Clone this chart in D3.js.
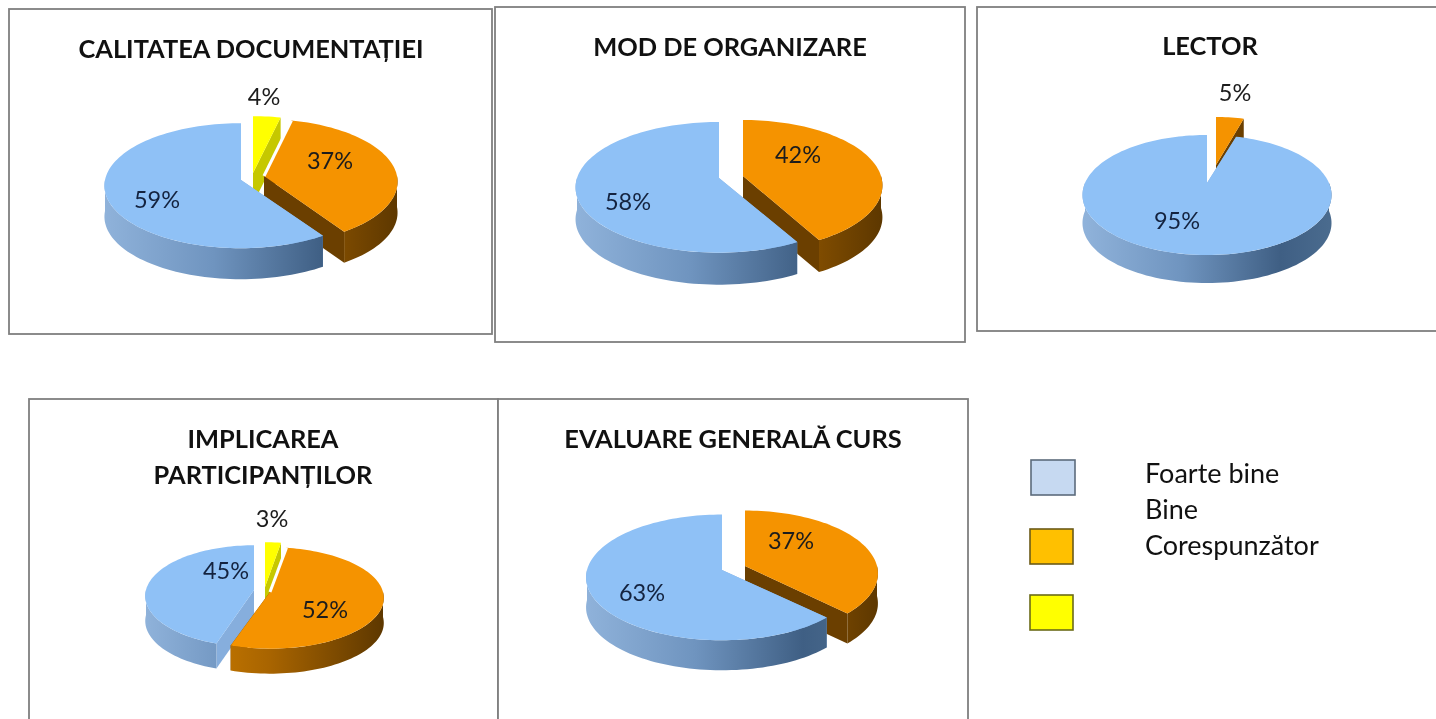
<!DOCTYPE html>
<html><head><meta charset="utf-8">
<script src="https://cdnjs.cloudflare.com/ajax/libs/d3/7.8.5/d3.min.js"></script>
<style>html,body{margin:0;padding:0;background:#fff;overflow:hidden}svg{display:block;filter:blur(.45px)}text{font-family:Lato,"Open Sans",sans-serif}</style>
</head><body><div id="c"></div>
<script>
// ---- data (shares in %, clockwise from 12 o'clock: Corespunzător, Bine, Foarte bine)
const categories = ["Foarte bine", "Bine", "Corespunzător"];
const titles = [["CALITATEA DOCUMENTAȚIEI"], ["MOD DE ORGANIZARE"], ["LECTOR"], ["IMPLICAREA", "PARTICIPANȚILOR"], ["EVALUARE GENERALĂ CURS"]];
const foarteBine = [59.4, 58, 95.4, 45, 62.6];
const bine = [37, 42, 4.6, 52.4, 37.4];
const corespunzator = [3.6, 0, 0, 2.6, 0];

// ---- layout
const W = 1436, H = 719;
const topColor = d3.scaleOrdinal(categories, ["#8fc1f6", "#f59300", "#ffff00"]);
const cutColor = d3.scaleOrdinal(categories, ["#86aedd", "#6b3f00", "#c6c800"]);
const wallStops = {
  "Foarte bine": [[0, "#8fb2da"], [.4, "#6f94bf"], [.8, "#3f5f84"], [1, "#4a6b8e"]],
  "Bine": [[0, "#d98500"], [.5, "#a86400"], [1, "#5e3800"]],
  "Corespunzător": [[0, "#c6c800"], [1, "#c6c800"]]
};
const legendFill = d3.scaleOrdinal(categories, ["#c6d9f1", "#ffc000", "#ffff00"]);
const legendStroke = d3.scaleOrdinal(categories, ["#5c6b7c", "#6b5a18", "#6b6b18"]);
// order: indices into [Corespunzător, Bine, Foarte bine], painted back to front
const layouts = [
  { box: [9, 9, 483, 325], titleX: 251, titleY: [49], depth: 31, f: 11, k: 62, order: [0, 1, 2],
    apex: { "Foarte bine": [241, 180, 136], "Bine": [264, 176, 133], "Corespunzător": [253, 173, 134] },
    label: { "Foarte bine": [157, 200], "Bine": [330, 161], "Corespunzător": [264, 97] } },
  { box: [495, 7, 470, 335], titleX: 730, titleY: [47], depth: 32, f: 7, k: 64, order: [0, 1, 2],
    apex: { "Foarte bine": [719, 178, 142], "Bine": [743, 176, 138], "Corespunzător": [742, 176, 140] },
    label: { "Foarte bine": [628, 202], "Bine": [798, 155] } },
  { box: [977, 7, 470, 324], titleX: 1210, titleY: [46], depth: 28, f: 5, k: 57.6, order: [0, 1, 2],
    apex: { "Foarte bine": [1207, 183, 122], "Bine": [1216, 165, 116], "Corespunzător": [1216, 165, 116] },
    label: { "Foarte bine": [1177, 221], "Bine": [1235, 93] } },
  { box: [29, 399, 469, 340], titleX: 263, titleY: [439, 475], depth: 25, f: 8.5, k: 50, order: [0, 2, 1],
    apex: { "Foarte bine": [254, 590, 108], "Bine": [270, 592, 113], "Corespunzător": [265, 587, 110] },
    label: { "Foarte bine": [226, 571], "Bine": [325, 610], "Corespunzător": [272, 519] } },
  { box: [498, 399, 470, 340], titleX: 733, titleY: [439], depth: 30, f: 8.5, k: 62, order: [0, 1, 2],
    apex: { "Foarte bine": [722, 570, 135], "Bine": [745, 566, 132], "Corespunzător": [745, 566, 132] },
    label: { "Foarte bine": [642, 593], "Bine": [791, 541] } }
];
const legendLayout = [
  { box: [1031, 460, 44, 35], textY: 473 },
  { box: [1030, 529, 43, 35], textY: 509 },
  { box: [1030, 595, 43, 35], textY: 545 }
];

const svg = d3.select("#c").append("svg").attr("width", W).attr("height", H);
const defs = svg.append("defs");
svg.append("rect").attr("width", W).attr("height", H).attr("fill", "#fff");

const pie = d3.pie().sort(null).value(d => d.v);
const line = d3.line();
const STEP = Math.PI / 90;

function project(a, L, th, shift) {
  const p = L.f / (L.f + Math.cos(th));
  return [a[0] + a[2] * Math.sin(th) * p, a[1] - L.k * Math.cos(th) * p + shift];
}
function arcAngles(a0, a1) {
  const n = Math.max(2, Math.ceil((a1 - a0) / STEP));
  return d3.range(n + 1).map(i => a0 + (a1 - a0) * i / n);
}

layouts.forEach((L, pi) => {
  const g = svg.append("g");
  g.append("rect").attr("x", L.box[0]).attr("y", L.box[1]).attr("width", L.box[2]).attr("height", L.box[3])
    .attr("fill", "#fff").attr("stroke", "#7f7f7f").attr("stroke-width", 1.8);

  titles[pi].forEach((t, i) => g.append("text").text(t).attr("x", L.titleX).attr("y", L.titleY[i])
    .attr("dy", ".36em").attr("text-anchor", "middle").attr("font-size", 25.4).attr("font-weight", 700)
    .attr("fill", "#111"));

  const rows = [
    { c: categories[2], v: corespunzator[pi] },
    { c: categories[1], v: bine[pi] },
    { c: categories[0], v: foarteBine[pi] }
  ];
  const arcs = pie(rows);
  L.order.forEach(idx => {
    const d = arcs[idx];
    if (d.data.v <= 0) return;
    const c = d.data.c, a = L.apex[c];
    const sl = g.append("g");
    const gid = `w${pi}-${idx}`;
    const grad = defs.append("linearGradient").attr("id", gid).attr("gradientUnits", "userSpaceOnUse")
      .attr("x1", a[0] - a[2]).attr("x2", a[0] + a[2]).attr("y1", 0).attr("y2", 0);
    wallStops[c].forEach(s => grad.append("stop").attr("offset", s[0]).attr("stop-color", s[1]));

    const apexPt = [a[0], a[1]], apexLow = [a[0], a[1] + L.depth];
    // cut walls
    [d.startAngle, d.endAngle].forEach(th => {
      const o = project(a, L, th, 0), ol = project(a, L, th, L.depth);
      sl.append("path").attr("d", line([apexPt, o, ol, apexLow]) + "Z").attr("fill", cutColor(c));
    });
    // outer wall, front half only
    const v0 = Math.max(d.startAngle, Math.PI / 2), v1 = Math.min(d.endAngle, 3 * Math.PI / 2);
    if (v1 > v0) {
      const angs = arcAngles(v0, v1);
      const pts = angs.map(t => project(a, L, t, 0)).concat(angs.slice().reverse().map(t => project(a, L, t, L.depth)));
      sl.append("path").attr("d", line(pts) + "Z").attr("fill", `url(#${gid})`);
    }
    // top face
    const face = [apexPt].concat(arcAngles(d.startAngle, d.endAngle).map(t => project(a, L, t, 0)));
    sl.append("path").attr("d", line(face) + "Z").attr("fill", topColor(c));
    // white outline along the orange slice's leading edge where it meets the yellow one
    if (c === categories[1] && corespunzator[pi] > 0) {
      sl.append("path").attr("d", line([face[1], apexPt])).attr("stroke", "#fff").attr("stroke-width", 3).attr("fill", "none");
    }
  });

  arcs.forEach(d => {
    if (d.data.v <= 0) return;
    const pos = L.label[d.data.c];
    g.append("text").text(Math.round(d.data.v) + "%").attr("x", pos[0]).attr("y", pos[1]).attr("dy", ".36em")
      .attr("text-anchor", "middle").attr("font-size", 23.5)
      .attr("fill", d.data.c === categories[0] ? "#14233f" : "#1c1c1c");
  });
});

categories.forEach((c, i) => {
  const l = legendLayout[i];
  svg.append("rect").attr("x", l.box[0]).attr("y", l.box[1]).attr("width", l.box[2]).attr("height", l.box[3])
    .attr("fill", legendFill(c)).attr("stroke", legendStroke(c)).attr("stroke-width", 1.6);
  svg.append("text").text(c).attr("x", 1145).attr("y", l.textY).attr("dy", ".36em")
    .attr("font-size", 27).attr("fill", "#111");
});
</script></body></html>
